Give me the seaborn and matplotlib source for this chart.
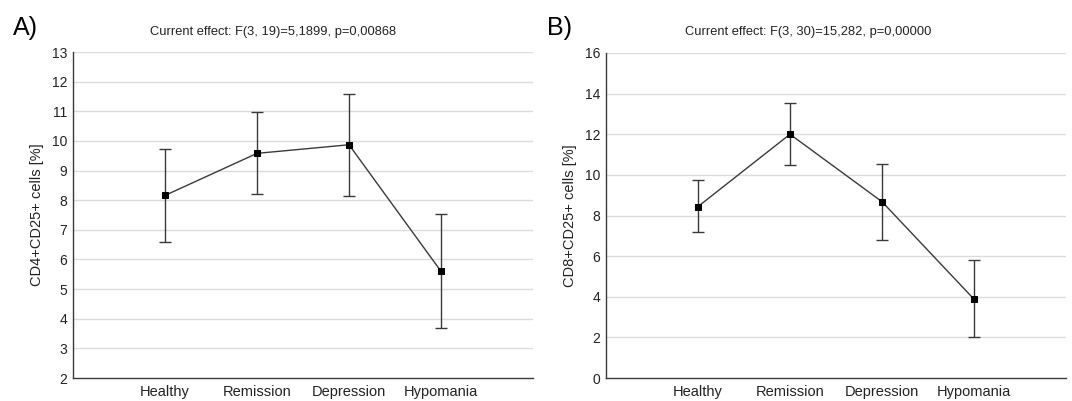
import matplotlib
matplotlib.use("Agg")
import matplotlib.pyplot as plt
import seaborn as sns
import pandas as pd
import numpy as np

groups = ["Healthy", "Remission", "Depression", "Hypomania"]

# Panel A: CD4+CD25+
a_mean = [8.16, 9.58, 9.87, 5.60]
a_low = [6.59, 8.22, 8.15, 3.69]
a_high = [9.74, 10.97, 11.58, 7.54]
a_title = "Current effect: F(3, 19)=5,1899, p=0,00868"
a_ylabel = "CD4+CD25+ cells [%]"
a_yticks = [2, 3, 4, 5, 6, 7, 8, 9, 10, 11, 12, 13]

# Panel B: CD8+CD25+
b_mean = [8.44, 12.00, 8.68, 3.88]
b_low = [7.18, 10.49, 6.80, 2.00]
b_high = [9.75, 13.55, 10.56, 5.80]
b_title = "Current effect: F(3, 30)=15,282, p=0,00000"
b_ylabel = "CD8+CD25+ cells [%]"
b_yticks = [0, 2, 4, 6, 8, 10, 12, 14, 16]

sns.set_style("white")
plt.rcParams["font.family"] = ["Liberation Sans", "DejaVu Sans"]

fig = plt.figure(figsize=(10.72, 4.01), dpi=100)
axA = fig.add_axes([73/1072, 23/401, 460/1072, 326/401])
axB = fig.add_axes([606/1072, 23/401, 460/1072, 325/401])

dark = "#3a3a3a"

def draw(ax, mean, low, high, yticks, ylabel):
    df = pd.DataFrame({"group": groups, "value": mean})
    df["x"] = np.arange(len(groups))
    for y in yticks[1:]:
        ax.axhline(y, color="#dcdcdc", lw=1, zorder=0)
    sns.lineplot(data=df, x="x", y="value", ax=ax, color=dark, lw=1.0,
                 marker="s", markersize=4.8, markerfacecolor="black",
                 markeredgecolor="black", zorder=3)
    m = np.array(mean); lo = np.array(low); hi = np.array(high)
    ax.errorbar(df["x"], m, yerr=[m - lo, hi - m], fmt="none",
                ecolor=dark, elinewidth=1.0, capsize=4, capthick=1.0, zorder=2)
    ax.set_xlim(-1, 4)
    ax.set_ylim(yticks[0], yticks[-1])
    ax.set_yticks(yticks)
    ax.set_yticklabels([str(t) for t in yticks])
    ax.set_xticks([0, 1, 2, 3, 4])
    ax.set_xticklabels(groups + [""])
    ax.set_xlabel("")
    ax.set_ylabel(ylabel, fontsize=10.5, color="#222222", labelpad=6)
    for s in ["top", "right"]:
        ax.spines[s].set_visible(False)
    for s in ["left", "bottom"]:
        ax.spines[s].set_color(dark)
        ax.spines[s].set_linewidth(1.0)
    ax.tick_params(axis="x", direction="in", length=3, color=dark,
                   labelsize=10.5, labelcolor="#222222", pad=5)
    ax.tick_params(axis="y", direction="in", length=0, labelsize=10,
                   labelcolor="#222222", pad=4)
    ax.grid(False)

draw(axA, a_mean, a_low, a_high, a_yticks, a_ylabel)
draw(axB, b_mean, b_low, b_high, b_yticks, b_ylabel)

fig.text(273/1072, 1 - 32/401, a_title, ha="center", va="center", fontsize=9.3, color="#222222")
fig.text(808/1072, 1 - 32/401, b_title, ha="center", va="center", fontsize=9.3, color="#222222")
fig.text(13/1072, 1 - 28/401, "A)", ha="left", va="center", fontsize=18, color="black")
fig.text(547/1072, 1 - 28/401, "B)", ha="left", va="center", fontsize=18, color="black")

fig.savefig("out.png", dpi=100)
